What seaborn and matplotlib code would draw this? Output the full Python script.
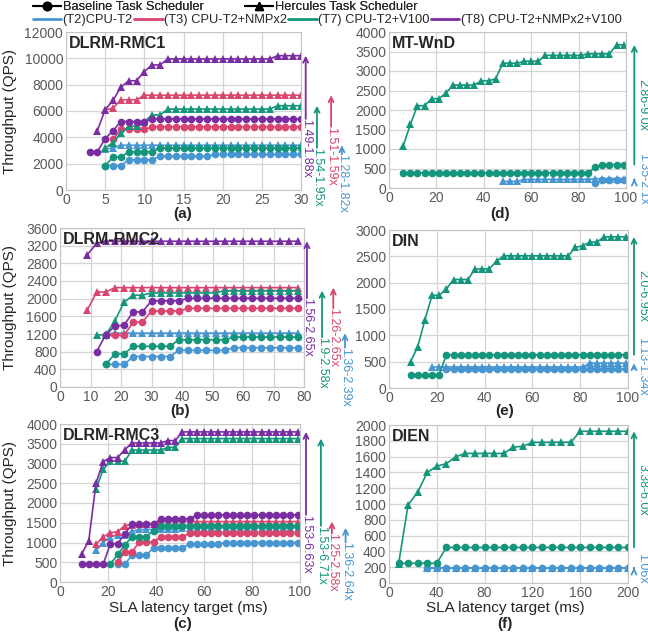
import numpy as np
import pandas as pd
import matplotlib
matplotlib.use('Agg')
import matplotlib.pyplot as plt
import seaborn as sns
from matplotlib.lines import Line2D
import matplotlib.transforms as mtransforms

sns.set_style('whitegrid')
plt.rcParams['font.family'] = ['Liberation Sans', 'DejaVu Sans']

W, H = 648, 638

configs = ['(T2)CPU-T2', '(T3) CPU-T2+NMPx2', '(T7) CPU-T2+V100', '(T8) CPU-T2+NMPx2+V100']
colors = ['#4796d2', '#d9456f', '#14967c', '#7a2ca3']
palette = dict(zip(configs, colors))

# (a) DLRM-RMC1
a_x = [3, 4, 5, 6, 7, 8, 9, 10, 11, 12, 13, 14, 15, 16, 17, 18, 19, 20, 21, 22, 23, 24, 25, 26, 27, 28, 29, 30]
a_t2_base = [None, None, 1850, 1850, 1850, 2300, 2300, 2300, 2300, 2550, 2550, 2550, 2550, 2550, 2550, 2550,
             2700, 2700, 2700, 2700, 2700, 2700, 2700, 2700, 2700, 2700, 2700, 2700]
a_t2_herc = [None, None, 3100, 3200, 3400, 3400, 3400, 3400, 3400, 3400, 3400, 3400, 3400, 3400, 3400, 3400,
             3400, 3400, 3400, 3400, 3400, 3400, 3400, 3400, 3400, 3400, 3400, 3400]
a_t3_base = [None, None, None, 3850, 4600, 4600, 4600, 4600, 4800, 4800, 4800, 4800, 4800, 4800, 4800, 4800,
             4800, 4800, 4800, 4800, 4800, 4800, 4800, 4800, 4800, 4800, 4800, 4800]
a_t3_herc = [None, None, 6100, 6200, 6850, 6850, 6850, 7200, 7200, 7200, 7200, 7200, 7200, 7200, 7200, 7200,
             7200, 7200, 7200, 7200, 7200, 7200, 7200, 7200, 7200, 7200, 7200, 7200]
a_t7_base = [None, None, 1850, 2500, 2500, 2900, 2900, 2900, 2900, 3200, 3200, 3200, 3200, 3200, 3200, 3200,
             3200, 3200, 3200, 3200, 3200, 3200, 3200, 3200, 3200, 3200, 3200, 3200]
a_t7_herc = [None, None, 3200, 3600, 4300, 4850, 4850, 5200, 5700, 5700, 6150, 6150, 6150, 6150, 6150, 6150,
             6150, 6150, 6150, 6150, 6150, 6150, 6150, 6150, 6400, 6400, 6400, 6400]
a_t8_base = [2900, 2900, 3900, 4500, 5200, 5200, 5200, 5200, 5400, 5400, 5400, 5400, 5400, 5400, 5400, 5400,
             5400, 5400, 5400, 5400, 5400, 5400, 5400, 5400, 5400, 5400, 5400, 5400]
a_t8_herc = [None, 4500, 6100, 6800, 7800, 8300, 8300, 9000, 9500, 9500, 9950, 9950, 9950, 9950, 9950, 9950,
             9950, 9950, 9950, 9950, 9950, 9950, 9950, 9950, 10200, 10200, 10200, 10200]
a_notes = ['1.28-1.82x', '1.51-1.59x', '1.54-1.95x', '1.49-1.88x']

# (b) DLRM-RMC2
b_x = [9, 12, 15, 18, 21, 24, 27, 30, 33, 36, 39, 42, 45, 48, 51, 54, 57, 60, 63, 66, 69, 72, 75, 78]
b_t2_base = [None, None, 510, 510, 510, 690, 690, 690, 690, 690, 830, 830, 830, 830, 830, 830,
             890, 890, 890, 890, 890, 890, 890, 890]
b_t2_herc = [None, None, 1200, 1220, 1220, 1220, 1220, 1220, 1220, 1220, 1220, 1220, 1220, 1220, 1220, 1220,
             1220, 1220, 1220, 1220, 1220, 1220, 1220, 1220]
b_t3_base = [None, None, 1180, 1170, 1170, 1470, 1470, 1720, 1720, 1720, 1720, 1780, 1780, 1780, 1780, 1780,
             1780, 1780, 1780, 1780, 1780, 1780, 1780, 1780]
b_t3_herc = [1750, 2150, 2150, 2250, 2250, 2250, 2250, 2250, 2250, 2250, 2250, 2250, 2250, 2250, 2250, 2250,
             2250, 2250, 2250, 2250, 2250, 2250, 2250, 2250]
b_t7_base = [None, None, 510, 750, 750, 920, 920, 920, 920, 920, 1070, 1070, 1070, 1070, 1070, 1070,
             1130, 1130, 1130, 1130, 1130, 1130, 1130, 1130]
b_t7_herc = [None, 1180, 1180, 1500, 1920, 2080, 2080, 2130, 2130, 2130, 2130, 2130, 2130, 2130, 2130, 2180,
             2180, 2180, 2180, 2180, 2180, 2180, 2180, 2180]
b_t8_base = [None, 800, 1180, 1380, 1400, 1700, 1700, 1950, 1950, 1950, 1950, 2010, 2010, 2010, 2010, 2010,
             2010, 2010, 2010, 2010, 2010, 2010, 2010, 2010]
b_t8_herc = [3000, 3250, 3300, 3300, 3300, 3300, 3300, 3300, 3300, 3300, 3300, 3300, 3300, 3300, 3300, 3300,
             3300, 3300, 3300, 3300, 3300, 3300, 3300, 3300]
b_notes = ['1.36-2.39x', '1.26-2.65x', '1.9-2.58x', '1.56-2.65x']

# (c) DLRM-RMC3
c_x = [9, 12, 15, 18, 21, 24, 27, 30, 33, 36, 39, 42, 45, 48, 51, 54, 57, 60, 63, 66, 69, 72, 75, 78,
       81, 84, 87, 90, 93, 96, 99]
c_t2_base = [None, None, None, None, None, 450, 450, 680, 680, 680, 870, 870, 870, 870, 870, 960,
             960, 960, 960, 960, 1000, 1000, 1000, 1000, 1000, 1000, 1000, 1000, 1000, 1000, 1000]
c_t2_herc = [None, None, 800, 1000, 1150, 1180, 1180, 1280, 1330, 1330, 1330, 1330, 1330, 1330, 1370, 1370,
             1370, 1370, 1370, 1370, 1370, 1370, 1370, 1370, 1370, 1370, 1370, 1370, 1370, 1370, 1370]
c_t3_base = [None, None, None, None, None, 500, 760, 760, 1010, 1010, 1010, 1150, 1150, 1150, 1150, 1230,
             1230, 1230, 1230, 1230, 1230, 1230, 1230, 1230, 1230, 1230, 1230, 1230, 1230, 1230, 1230]
c_t3_herc = [None, None, 950, 1150, 1250, 1270, 1430, 1450, 1480, 1480, 1480, 1530, 1530, 1530, 1530, 1530,
             1530, 1530, 1530, 1530, 1530, 1530, 1530, 1530, 1530, 1530, 1530, 1530, 1530, 1530, 1530]
c_t7_base = [None, None, None, None, 450, 700, 930, 1150, 1150, 1150, 1300, 1420, 1420, 1420, 1420, 1420,
             1420, 1420, 1420, 1420, 1420, 1420, 1420, 1420, 1420, 1420, 1420, 1420, 1420, 1420, 1420]
c_t7_herc = [None, None, 2350, 2850, 3060, 3060, 3060, 3340, 3340, 3340, 3340, 3340, 3410, 3410, 3630, 3630,
             3630, 3630, 3630, 3630, 3630, 3630, 3630, 3630, 3630, 3630, 3630, 3630, 3630, 3630, 3630]
c_t8_base = [450, 450, 450, 450, 970, 970, 1220, 1460, 1460, 1460, 1460, 1600, 1600, 1600, 1600, 1600,
             1700, 1700, 1700, 1700, 1700, 1700, 1700, 1700, 1700, 1700, 1700, 1700, 1700, 1700, 1700]
c_t8_herc = [700, 1050, 2500, 3050, 3150, 3150, 3350, 3520, 3520, 3520, 3520, 3520, 3580, 3580, 3800, 3800,
             3800, 3800, 3800, 3800, 3800, 3800, 3800, 3800, 3800, 3800, 3800, 3800, 3800, 3800, 3800]
c_notes = ['1.36-2.64x', '1.25-2.58x', '1.53-6.71x', '1.53-6.63x']

# (d) MT-WnD
d_x = [6, 9, 12, 15, 18, 21, 24, 27, 30, 33, 36, 39, 42, 45, 48, 51, 54, 57, 60, 63, 66, 69, 72, 75,
       78, 81, 84, 87, 90, 93, 96, 99]
d_t2_base = [None, None, None, None, None, None, None, None, None, None, None, None, None, None, None, None,
             None, None, None, None, None, None, None, None, None, None, None, 120, 210, 210, 210, 210]
d_t2_herc = [None, None, None, None, None, None, None, None, None, None, None, None, None, None, 170, 170,
             170, 220, 220, 220, 220, 220, 220, 220, 220, 220, 220, 240, 240, 240, 240, 240]
d_t7_base = [390, 390, 390, 390, 390, 390, 390, 390, 390, 390, 390, 390, 390, 390, 390, 390,
             390, 390, 390, 390, 390, 390, 390, 390, 390, 390, 390, 530, 600, 600, 600, 600]
d_t7_herc = [1080, 1630, 2110, 2110, 2290, 2290, 2430, 2640, 2640, 2640, 2640, 2750, 2750, 2800, 3200, 3200,
             3200, 3250, 3250, 3250, 3400, 3400, 3400, 3400, 3400, 3400, 3440, 3440, 3440, 3440, 3670, 3670]
d_notes = ['1.35-2.1x', None, '2.86-9.0x', None]

# (e) DIN
e_x = [9, 12, 15, 18, 21, 24, 27, 30, 33, 36, 39, 42, 45, 48, 51, 54, 57, 60, 63, 66, 69, 72, 75, 78,
       81, 84, 87, 90, 93, 96, 99]
e_t2_base = [None, None, None, None, None, 360, 360, 360, 360, 360, 360, 360, 360, 360, 360, 360,
             360, 360, 360, 360, 360, 360, 360, 360, 360, 360, 360, 360, 360, 360, 360]
e_t2_herc = [None, None, None, 400, 400, 400, 400, 400, 400, 400, 400, 400, 400, 400, 400, 400,
             400, 400, 400, 400, 400, 400, 400, 400, 400, 470, 470, 470, 470, 470, 470]
e_t7_base = [250, 250, 250, 250, 250, 630, 630, 630, 630, 630, 630, 630, 630, 630, 630, 630,
             630, 630, 630, 630, 630, 630, 630, 630, 630, 630, 630, 630, 630, 630, 630]
e_t7_herc = [500, 780, 1290, 1760, 1760, 1880, 2060, 2060, 2060, 2260, 2260, 2260, 2410, 2510, 2510, 2510,
             2510, 2510, 2510, 2510, 2510, 2510, 2510, 2670, 2700, 2770, 2770, 2870, 2870, 2870, 2870]
e_notes = ['1.13-1.34x', None, '2.0-6.95x', None]

# (f) DIEN
f_x = [8, 16, 24, 32, 40, 48, 56, 64, 72, 80, 88, 96, 104, 112, 120, 128, 136, 144, 152, 160,
       168, 176, 184, 192, 200]
f_t2_base = [None, None, None, 185, 185, 185, 185, 185, 185, 185, 185, 185, 185, 185, 185, 185,
             185, 185, 185, 185, 185, 185, 185, 185, 185]
f_t2_herc = [None, None, None, 195, 195, 195, 195, 195, 195, 195, 195, 195, 195, 195, 195, 195,
             195, 195, 195, 195, 195, 195, 195, 195, 195]
f_t7_base = [250, 250, 250, 250, 250, 450, 450, 450, 450, 450, 450, 450, 450, 450, 450, 450,
             450, 450, 450, 450, 450, 450, 450, 450, 450]
f_t7_herc = [240, 990, 1150, 1400, 1480, 1510, 1600, 1640, 1640, 1640, 1640, 1640, 1720, 1730, 1780, 1780,
             1780, 1780, 1780, 1920, 1920, 1920, 1920, 1920, 1920]
f_notes = ['1.06x', None, '3.38-6.0x', None]


fig = plt.figure(figsize=(W / 100, H / 100), dpi=100)


def add_rect(l, r, t, b):
    return fig.add_axes([l / W, 1 - b / H, (r - l) / W, (b - t) / H])


def draw(ax, x, base, herc, xticks, yticks, title, notes, note_x, side):
    rows = []
    for cfg, bv_list, hv_list in zip(configs, base, herc):
        if bv_list is None:
            continue
        assert len(bv_list) == len(x) and len(hv_list) == len(x), title
        for xv, bv, hv in zip(x, bv_list, hv_list):
            if bv is not None:
                rows.append((xv, bv, cfg, 'Baseline'))
            if hv is not None:
                rows.append((xv, hv, cfg, 'Hercules'))
    df = pd.DataFrame(rows, columns=['lat', 'qps', 'config', 'sched'])
    sns.lineplot(data=df, x='lat', y='qps', hue='config', style='sched',
                 markers={'Baseline': 'o', 'Hercules': '^'}, dashes=False,
                 palette=palette, ax=ax, legend=False, errorbar=None, estimator=None,
                 markersize=5.5, markeredgewidth=0, linewidth=1.2)
    ax.set_xlim(xticks[0], xticks[-1])
    ax.set_ylim(yticks[0], yticks[-1])
    ax.set_xticks(xticks)
    ax.set_yticks(yticks)
    ax.set_xlabel('')
    ax.set_ylabel('')
    ax.tick_params(labelsize=10, labelcolor='#595959', length=0, pad=2)
    ax.grid(True, color='#d4d4d4', lw=0.9)
    for s in ax.spines.values():
        s.set_color('#c4c4c4')
    ax.text(0.012, 0.975, title, transform=ax.transAxes, fontsize=11.5, fontweight='bold',
            va='top', ha='left', zorder=10)
    trans = mtransforms.blended_transform_factory(ax.transAxes, ax.transData)
    for cfg_i, label in enumerate(notes):
        if label is None:
            continue
        lo = max(v for v in base[cfg_i] if v is not None)
        hi = max(v for v in herc[cfg_i] if v is not None)
        xa = note_x[cfg_i]
        ax.annotate('', xy=(xa, hi), xytext=(xa, lo), xycoords=trans, textcoords=trans,
                    annotation_clip=False,
                    arrowprops=dict(arrowstyle='->', color=colors[cfg_i], lw=1.3,
                                    mutation_scale=9, shrinkA=0, shrinkB=0))
        if side == 'left':
            ax.text(xa, lo, label, transform=trans, rotation=270, ha='center', va='top',
                    fontsize=9, color=colors[cfg_i], clip_on=False)
        else:
            ax.text(xa + 0.035, (lo + hi) / 2, label, transform=trans, rotation=270,
                    ha='center', va='center', fontsize=9, color=colors[cfg_i], clip_on=False)


ax_a = add_rect(66, 301, 32, 190)
draw(ax_a, a_x, [a_t2_base, a_t3_base, a_t7_base, a_t8_base], [a_t2_herc, a_t3_herc, a_t7_herc, a_t8_herc],
     [0, 5, 10, 15, 20, 25, 30], [0, 2000, 4000, 6000, 8000, 10000, 12000], 'DLRM-RMC1',
     a_notes, [1.174, 1.128, 1.068, 1.02], 'left')

ax_b = add_rect(60, 304, 228, 387)
draw(ax_b, b_x, [b_t2_base, b_t3_base, b_t7_base, b_t8_base], [b_t2_herc, b_t3_herc, b_t7_herc, b_t8_herc],
     [0, 10, 20, 30, 40, 50, 60, 70, 80], [0, 400, 800, 1200, 1600, 2000, 2400, 2800, 3200, 3600],
     'DLRM-RMC2', b_notes, [1.168, 1.12, 1.074, 1.012], 'left')

ax_c = add_rect(60, 300, 424, 582)
draw(ax_c, c_x, [c_t2_base, c_t3_base, c_t7_base, c_t8_base], [c_t2_herc, c_t3_herc, c_t7_herc, c_t8_herc],
     [0, 20, 40, 60, 80, 100], [0, 500, 1000, 1500, 2000, 2500, 3000, 3500, 4000],
     'DLRM-RMC3', c_notes, [1.19, 1.133, 1.087, 1.025], 'left')

ax_d = add_rect(389, 626, 32, 188)
draw(ax_d, d_x, [d_t2_base, None, d_t7_base, None], [d_t2_herc, None, d_t7_herc, None],
     [0, 20, 40, 60, 80, 100], [0, 500, 1000, 1500, 2000, 2500, 3000, 3500, 4000],
     'MT-WnD', d_notes, [1.035, None, 1.035, None], 'right')

ax_e = add_rect(389, 628, 230, 388)
draw(ax_e, e_x, [e_t2_base, None, e_t7_base, None], [e_t2_herc, None, e_t7_herc, None],
     [0, 20, 40, 60, 80, 100], [0, 500, 1000, 1500, 2000, 2500, 3000],
     'DIN', e_notes, [1.025, None, 1.025, None], 'right')

ax_f = add_rect(389, 628, 425, 583)
draw(ax_f, f_x, [f_t2_base, None, f_t7_base, None], [f_t2_herc, None, f_t7_herc, None],
     [0, 40, 80, 120, 160, 200], [0, 200, 400, 600, 800, 1000, 1200, 1400, 1600, 1800, 2000],
     'DIEN', f_notes, [1.025, None, 1.025, None], 'right')

for ax, l in [(ax_a, 66), (ax_b, 60), (ax_c, 60)]:
    ax.set_ylabel('Throughput (QPS)', fontsize=11)
    w = ax.get_position().width * W
    ax.yaxis.set_label_coords((17 - l) / w, 0.5)


def ftext(xp, yp, s, **kw):
    fig.text(xp / W, 1 - yp / H, s, ha='center', va='center', **kw)


ftext(183, 214, '(a)', fontsize=11, fontweight='bold')
ftext(180, 411, '(b)', fontsize=11, fontweight='bold')
ftext(188, 608, 'SLA latency target (ms)', fontsize=11)
ftext(183, 624, '(c)', fontsize=11, fontweight='bold')
ftext(500, 214, '(d)', fontsize=11, fontweight='bold')
ftext(505, 411, '(e)', fontsize=11, fontweight='bold')
ftext(505, 608, 'SLA latency target (ms)', fontsize=11)
ftext(505, 624, '(f)', fontsize=11, fontweight='bold')

# legends
sched_handles = [Line2D([], [], color='black', marker='o', markersize=6, lw=1.5),
                 Line2D([], [], color='black', marker='^', markersize=6, lw=1.5)]
leg1 = fig.legend(sched_handles, ['Baseline Task Scheduler', 'Hercules Task Scheduler'],
                  loc='center left', bbox_to_anchor=(33 / W, 1 - 7 / H), ncol=2, frameon=False,
                  fontsize=9.3, handlelength=2.2, handletextpad=0.1, columnspacing=3.2,
                  borderpad=0, borderaxespad=0)
cfg_handles = [Line2D([], [], color=c, lw=2) for c in colors]
fig.legend(cfg_handles, configs, loc='center left', bbox_to_anchor=(33 / W, 1 - 20 / H), ncol=4,
           frameon=False, fontsize=9.3, handlelength=2.2, handletextpad=0.1, columnspacing=0.1,
           borderpad=0, borderaxespad=0)
fig.add_artist(leg1)

fig.savefig('out.png', dpi=100)
